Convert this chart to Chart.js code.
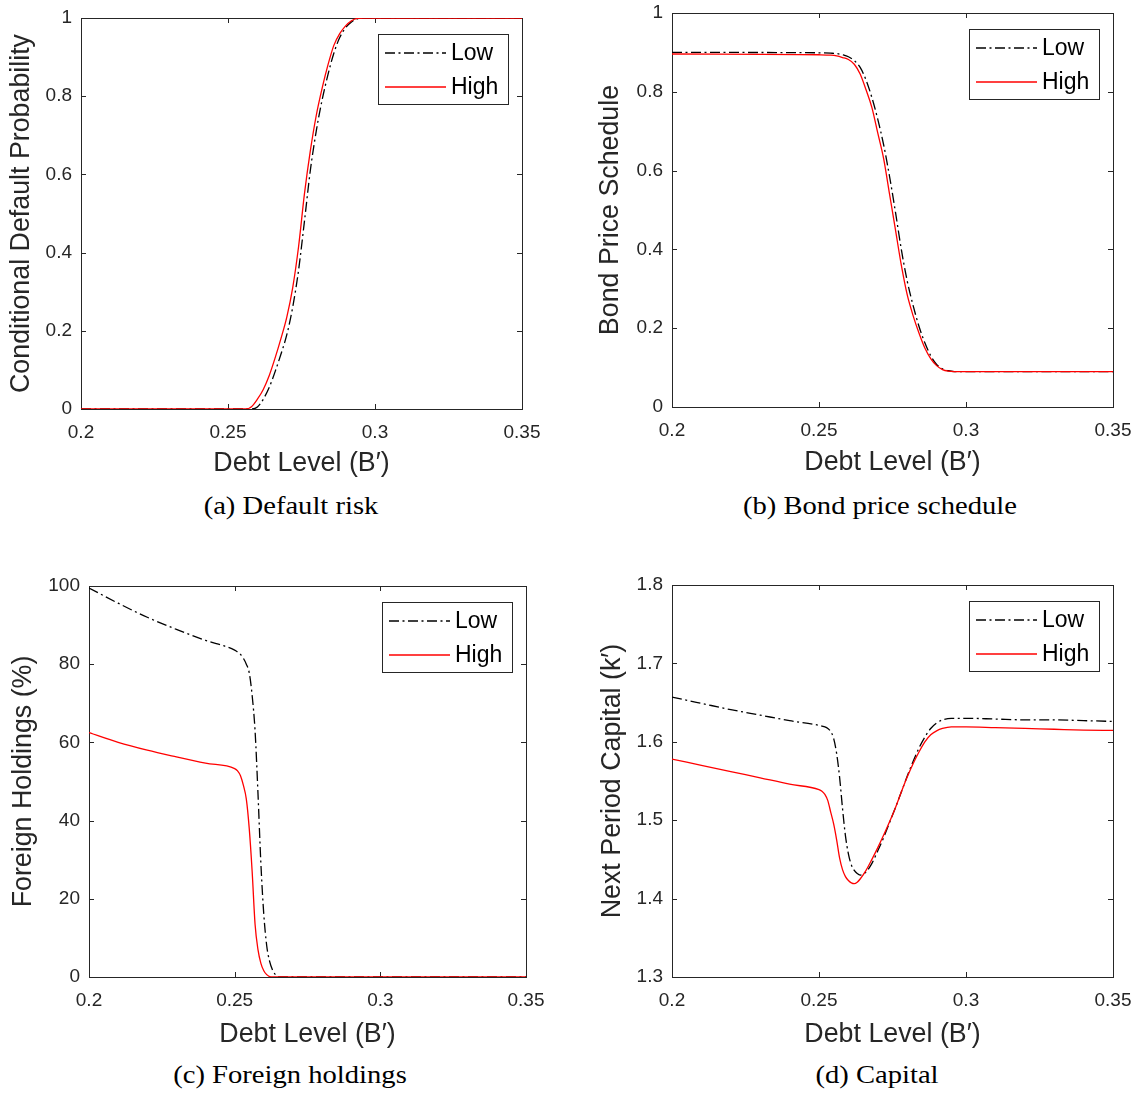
<!DOCTYPE html>
<html>
<head>
<meta charset="utf-8">
<script src="https://cdn.jsdelivr.net/npm/chart.js@4.4.0/dist/chart.umd.min.js"></script>
<style>
body { margin: 0; background: #fff; width: 1138px; height: 1093px; position: relative; overflow: hidden; }
canvas { position: absolute; }
.cap { position: absolute; font-family: "Liberation Serif", "Times New Roman", serif; font-size: 26px; color: #000;
       white-space: nowrap; line-height: 30px; transform: translateX(-50%) scaleX(1.1); }
</style>
</head>
<body>
<canvas id="chartA" width="560" height="493" style="left:0;top:-3px"></canvas>
<canvas id="chartB" width="570" height="498" style="left:580px;top:-8px"></canvas>
<canvas id="chartC" width="560" height="500" style="left:0;top:560px"></canvas>
<canvas id="chartD" width="570" height="500" style="left:580px;top:560px"></canvas>
<div class="cap" style="left:291px;top:491px">(a) Default risk</div>
<div class="cap" style="left:880px;top:491px">(b) Bond price schedule</div>
<div class="cap" style="left:290px;top:1060px">(c) Foreign holdings</div>
<div class="cap" style="left:877px;top:1060px">(d) Capital</div>
<script>
const xTicks = [0.2, 0.25, 0.3, 0.35];
const seriesNames = ['Low', 'High'];

// (a) default risk
const aDebt = [0.2, 0.25, 0.256, 0.258, 0.26, 0.262, 0.264, 0.266, 0.268, 0.27, 0.272, 0.274, 0.276, 0.278, 0.28, 0.282, 0.284, 0.286, 0.288, 0.29, 0.292, 0.294, 0.296, 0.3, 0.35];
const aLow = [0, 0, 0, 0, 0.005, 0.025, 0.055, 0.095, 0.14, 0.19, 0.26, 0.355, 0.48, 0.61, 0.71, 0.79, 0.855, 0.91, 0.95, 0.975, 0.99, 0.998, 1, 1, 1];
const aHigh = [0, 0, 0, 0.006, 0.025, 0.05, 0.085, 0.13, 0.18, 0.235, 0.31, 0.415, 0.55, 0.66, 0.75, 0.82, 0.88, 0.93, 0.96, 0.98, 0.993, 0.999, 1, 1, 1];
const aTicks = [0, 0.2, 0.4, 0.6, 0.8, 1];

// (b) bond price schedule
const bDebt = [0.2, 0.25, 0.254, 0.256, 0.258, 0.26, 0.262, 0.264, 0.266, 0.268, 0.27, 0.272, 0.274, 0.276, 0.278, 0.28, 0.282, 0.284, 0.286, 0.288, 0.29, 0.292, 0.294, 0.296, 0.3, 0.35];
const bLow = [0.9, 0.899, 0.898, 0.897, 0.894, 0.889, 0.879, 0.862, 0.83, 0.785, 0.73, 0.665, 0.585, 0.495, 0.4, 0.32, 0.258, 0.205, 0.163, 0.13, 0.108, 0.097, 0.092, 0.09, 0.09, 0.09];
const bHigh = [0.896, 0.894, 0.893, 0.891, 0.887, 0.882, 0.87, 0.845, 0.805, 0.76, 0.695, 0.63, 0.54, 0.45, 0.36, 0.285, 0.232, 0.188, 0.15, 0.123, 0.105, 0.095, 0.091, 0.09, 0.09, 0.09];
const bTicks = [0, 0.2, 0.4, 0.6, 0.8, 1];

// (c) foreign holdings (%)
const cDebt = [0.2, 0.21, 0.22, 0.23, 0.24, 0.25, 0.251, 0.252, 0.253, 0.254, 0.255, 0.256, 0.257, 0.258, 0.259, 0.26, 0.261, 0.262, 0.263, 0.264, 0.265, 0.27, 0.3, 0.35];
const cLow = [99.5, 95.6, 92.0, 88.9, 86.1, 83.6, 83.1, 82.5, 81.5, 80, 77.8, 72, 63, 47, 29, 16, 8, 4, 1.8, 0.6, 0, 0, 0, 0];
const cHigh = [62.5, 60.0, 58.0, 56.3, 54.7, 53.3, 52.7, 51.5, 49, 45.5, 38, 27, 13.5, 7, 3.5, 1.6, 0.6, 0.1, 0, 0, 0, 0, 0, 0];
const cTicks = [0, 20, 40, 60, 80, 100];

// (d) next period capital
const dDebt = [0.2, 0.21, 0.22, 0.23, 0.24, 0.25, 0.251, 0.252, 0.253, 0.254, 0.255, 0.256, 0.257, 0.258, 0.259, 0.26, 0.261, 0.262, 0.263, 0.264,
  0.266, 0.268, 0.27, 0.272, 0.274, 0.276, 0.278, 0.28, 0.282, 0.284, 0.286, 0.288, 0.29, 0.292, 0.295, 0.3, 0.31, 0.32, 0.33, 0.34, 0.35];
const dLow = [1.657, 1.649, 1.641, 1.634, 1.627, 1.621, 1.620, 1.619, 1.617, 1.613, 1.604, 1.585, 1.555, 1.515, 1.48, 1.457, 1.443, 1.436, 1.432, 1.430,
  1.434, 1.445, 1.461, 1.478, 1.497, 1.516, 1.536, 1.556, 1.575, 1.592, 1.606, 1.617, 1.624, 1.628, 1.630, 1.630, 1.629, 1.628, 1.628, 1.627, 1.626];
const dHigh = [1.578, 1.570, 1.562, 1.554, 1.546, 1.539, 1.537, 1.533, 1.525, 1.51, 1.495, 1.475, 1.452, 1.437, 1.428, 1.423, 1.420, 1.419, 1.421, 1.425,
  1.436, 1.45, 1.465, 1.481, 1.498, 1.516, 1.536, 1.555, 1.572, 1.587, 1.600, 1.609, 1.614, 1.617, 1.619, 1.619, 1.618, 1.617, 1.616, 1.615, 1.6145];
const dTicks = [1.3, 1.4, 1.5, 1.6, 1.7, 1.8];

const axisColor = '#262626';
const sans = '"Liberation Sans", Arial, sans-serif';

// matlab-like box with inward ticks, drawn under the lines
const boxPlugin = {
  id: 'box',
  beforeDatasetsDraw(chart) {
    const { ctx, chartArea: a, scales: { x, y } } = chart;
    ctx.save();
    ctx.strokeStyle = axisColor;
    ctx.lineWidth = 1;
    ctx.strokeRect(a.left + 0.5, a.top + 0.5, a.right - a.left, a.bottom - a.top);
    ctx.beginPath();
    x.ticks.forEach(t => {
      const px = Math.round(x.getPixelForValue(t.value)) + 0.5;
      ctx.moveTo(px, a.bottom); ctx.lineTo(px, a.bottom - 5);
      ctx.moveTo(px, a.top); ctx.lineTo(px, a.top + 5);
    });
    y.ticks.forEach(t => {
      const py = Math.round(y.getPixelForValue(t.value)) + 0.5;
      ctx.moveTo(a.left, py); ctx.lineTo(a.left + 5, py);
      ctx.moveTo(a.right, py); ctx.lineTo(a.right - 5, py);
    });
    ctx.stroke();
    ctx.restore();
  },
  afterDraw(chart) {
    const { ctx, chartArea: a } = chart;
    const w = 130, h = 70;
    const bx = a.right - 14 - w, by = a.top + 16;
    ctx.save();
    ctx.fillStyle = '#fff';
    ctx.fillRect(bx, by, w, h);
    ctx.strokeStyle = axisColor;
    ctx.lineWidth = 1;
    ctx.strokeRect(bx + 0.5, by + 0.5, w, h);
    chart.data.datasets.forEach((ds, i) => {
      const ly = by + 19 + i * 34;
      ctx.beginPath();
      ctx.setLineDash(ds.borderDash || []);
      ctx.strokeStyle = ds.borderColor;
      ctx.lineWidth = ds.borderWidth;
      ctx.moveTo(bx + 7, ly);
      ctx.lineTo(bx + 68, ly);
      ctx.stroke();
      ctx.setLineDash([]);
      ctx.fillStyle = '#000';
      ctx.font = '23px ' + sans;
      ctx.textBaseline = 'middle';
      ctx.fillText(ds.label, bx + 73, ly + 1);
    });
    ctx.restore();
  }
};

function toPoints(xs, ys) {
  return xs.map((x, i) => ({ x: x, y: ys[i] }));
}

function makePanel(id, debt, low, high, yTicks, yTitle, g) {
  new Chart(document.getElementById(id), {
    type: 'line',
    data: {
      datasets: [
        { label: seriesNames[0], data: toPoints(debt, low), borderColor: '#000000', borderWidth: 1.3,
          borderDash: [10, 3.5, 2, 3.5], pointRadius: 0, cubicInterpolationMode: 'monotone', order: 1 },
        { label: seriesNames[1], data: toPoints(debt, high), borderColor: '#ff0000', borderWidth: 1.3,
          pointRadius: 0, cubicInterpolationMode: 'monotone', order: 0 }
      ]
    },
    options: {
      responsive: false,
      animation: false,
      layout: { padding: { left: 0, top: g.padTop, right: g.padRight, bottom: 0 } },
      plugins: { legend: { display: false }, tooltip: { enabled: false } },
      scales: {
        x: {
          type: 'linear', min: 0.2, max: 0.35,
          afterBuildTicks: s => { s.ticks = xTicks.map(v => ({ value: v })); },
          afterFit: s => { s.height = g.xHeight; },
          grid: { display: false, drawTicks: false },
          border: { display: false },
          ticks: { padding: 12, autoSkip: false, maxRotation: 0, color: axisColor,
                   font: { family: sans, size: 19 }, callback: v => String(v) },
          title: { display: true, text: 'Debt Level (B′)', color: axisColor,
                   font: { family: sans, size: 26.8, lineHeight: 1.2 }, padding: { top: 0, bottom: g.xTitlePad } }
        },
        y: {
          type: 'linear', min: yTicks[0], max: yTicks[yTicks.length - 1],
          afterBuildTicks: s => { s.ticks = yTicks.map(v => ({ value: v })); },
          afterFit: s => { s.width = g.yWidth; },
          grid: { display: false, drawTicks: false },
          border: { display: false },
          ticks: { padding: 9, autoSkip: false, color: axisColor,
                   font: { family: sans, size: 19 }, callback: v => String(v) },
          title: { display: true, text: yTitle, color: axisColor,
                   font: { family: sans, size: 26.8, lineHeight: 1.2 }, padding: { top: g.yTitlePad, bottom: 0 } }
        }
      }
    },
    plugins: [boxPlugin]
  });
}

makePanel('chartA', aDebt, aLow, aHigh, aTicks, 'Conditional Default Probability',
  { padTop: 21, padRight: 38, yWidth: 81, xHeight: 81, yTitlePad: 6, xTitlePad: 10 });
makePanel('chartB', bDebt, bLow, bHigh, bTicks, 'Bond Price Schedule',
  { padTop: 21, padRight: 37, yWidth: 92, xHeight: 83, yTitlePad: 15, xTitlePad: 11 });
makePanel('chartC', cDebt, cLow, cHigh, cTicks, 'Foreign Holdings (%)',
  { padTop: 26, padRight: 34, yWidth: 89, xHeight: 83, yTitlePad: 8, xTitlePad: 9 });
makePanel('chartD', dDebt, dLow, dHigh, dTicks, 'Next Period Capital (k′)',
  { padTop: 25, padRight: 37, yWidth: 92, xHeight: 83, yTitlePad: 17, xTitlePad: 9 });
</script>
</body>
</html>
